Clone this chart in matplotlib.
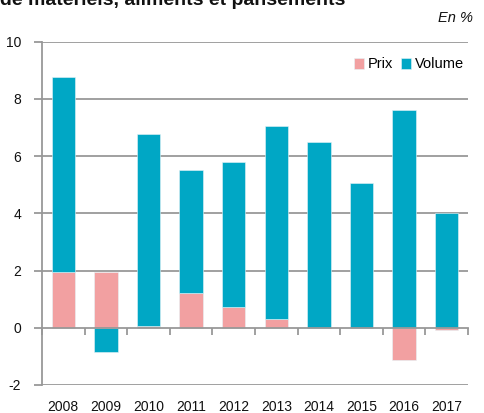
import matplotlib
matplotlib.use("Agg")
import matplotlib.pyplot as plt
import matplotlib.transforms as mtransforms
import numpy as np

plt.rcParams['font.family'] = ['Liberation Sans', 'DejaVu Sans']

years = ['2008', '2009', '2010', '2011', '2012', '2013', '2014', '2015', '2016', '2017']
prix = [1.95, 1.95, 0.07, 1.21, 0.72, 0.32, 0.0, 0.0, -1.14, -0.08]
volume = [6.80, -0.86, 6.71, 4.31, 5.06, 6.74, 6.50, 5.06, 7.60, 4.01]
yticks = [-2, 0, 2, 4, 6, 8, 10]

col_prix = '#F2A0A1'
col_vol = '#00A7C5'
grid_col = '#989898'

W, H = 484, 413
fig = plt.figure(figsize=(W / 100, H / 100), dpi=100)
ax = fig.add_axes([42 / W, 1 - 385 / H, (468 - 42) / W, (385 - 41.7) / H])

x = np.arange(len(years))
prix_a = np.array(prix)
vol_a = np.array(volume)

# Excel-style stacking: positives pile up from zero, negatives pile down from zero
pos_base = np.zeros(len(years))
neg_base = np.zeros(len(years))
for vals, col, lab in [(prix_a, col_prix, 'Prix'), (vol_a, col_vol, 'Volume')]:
    bottoms = np.where(vals >= 0, pos_base, neg_base)
    ax.bar(x, vals, bottom=bottoms, width=0.55, color=col, label=lab,
           zorder=3, edgecolor='#E6F4F7', linewidth=0.4)
    pos_base = pos_base + np.where(vals >= 0, vals, 0)
    neg_base = neg_base + np.where(vals < 0, vals, 0)

ax.set_xlim(-0.5, len(years) - 0.5)
ax.set_ylim(-2, 10)

# horizontal gridlines
for yv in yticks:
    if yv != 0:
        ax.axhline(yv, color=grid_col, lw=1.3, zorder=1)

for s in ['top', 'right']:
    ax.spines[s].set_visible(False)
ax.spines['left'].set_color(grid_col)
ax.spines['left'].set_linewidth(1.3)
ax.spines['bottom'].set_position(('data', 0))
ax.spines['bottom'].set_color(grid_col)
ax.spines['bottom'].set_linewidth(1.3)
ax.spines['bottom'].set_zorder(4)

ax.set_yticks(yticks)
ax.set_yticklabels([str(v) for v in yticks], fontsize=10, color='#111111')
ax.tick_params(axis='y', length=6, width=1.3, color=grid_col, pad=9)

# category boundary ticks on the zero axis
ax.set_xticks(np.arange(len(years) + 1) - 0.5)
ax.set_xticklabels([])
ax.tick_params(axis='x', length=5, width=1.3, color=grid_col, direction='out')

# year labels under the plot area
trans = mtransforms.blended_transform_factory(ax.transData, ax.transAxes)
for xi, lab in zip(x, years):
    ax.text(xi, -0.065, lab, transform=trans, ha='center', va='center',
            fontsize=10, color='#111111')

leg = ax.legend(loc='center right', bbox_to_anchor=(464 / W, 1 - 64.5 / H),
                bbox_transform=fig.transFigure, ncol=2, frameon=False,
                fontsize=10.5, handlelength=0.7, handleheight=0.7,
                handletextpad=0.25, columnspacing=0.55, borderpad=0,
                borderaxespad=0)

fig.text(0.0, 1 - 5 / H, 'de matériels, aliments et pansements',
         fontsize=14, fontweight='bold', ha='left', va='baseline', color='#111111')
fig.text(473 / W, 1 - 18 / H, 'En %', fontsize=10.5, style='italic',
         ha='right', va='center', color='#111111')

fig.savefig('out.png', dpi=100)
